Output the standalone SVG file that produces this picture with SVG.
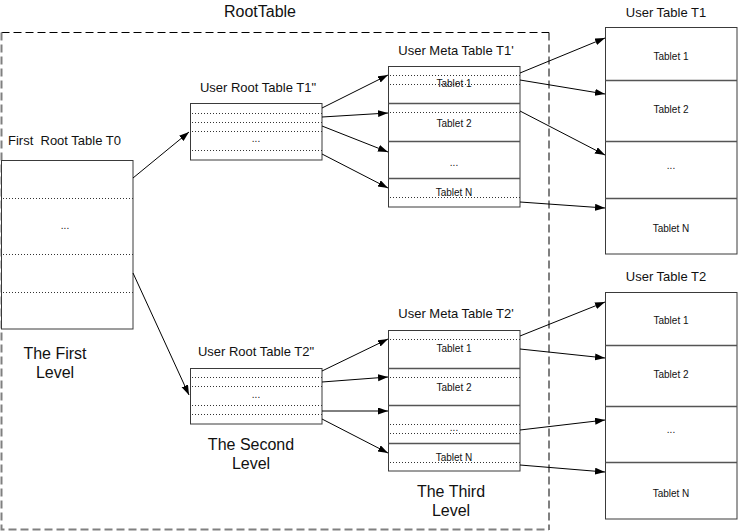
<svg xmlns="http://www.w3.org/2000/svg" width="738" height="531" viewBox="0 0 738 531">
<style>
text{font-family:"Liberation Sans",Arial,sans-serif;fill:#111}
.t{font-size:13px;text-anchor:middle}
.lv{font-size:16px;text-anchor:middle}
.s{font-size:10px;text-anchor:middle}
.box{fill:#fff;stroke:#3a3a3a;stroke-width:1}
.div{stroke:#555;stroke-width:1.3;fill:none}
.dot{stroke:#333;stroke-width:1;stroke-dasharray:1 2;fill:none}
.c{stroke:#000;stroke-width:1;fill:none;marker-end:url(#ah)}
</style>
<defs>
<marker id="ah" markerUnits="userSpaceOnUse" markerWidth="10" markerHeight="8" refX="10" refY="3.5" orient="auto">
<path d="M0,0 L10,3.5 L0,7 z" fill="#000"/>
</marker>
</defs>
<rect width="738" height="531" fill="#fff"/>
<g id="roottable">
<path d="M1.5,32.5 H549" fill="none" stroke="#000" stroke-width="1" stroke-dasharray="8 4"/>
<path d="M549,32.5 V530" fill="none" stroke="#000" stroke-width="1" stroke-dasharray="8 4"/>
<path d="M1.5,32.5 V529.5 H549" fill="none" stroke="#808080" stroke-width="2" stroke-dasharray="8 4"/>
<text x="260" y="17" style="font-size:16px;text-anchor:middle">RootTable</text>
</g>
<g id="t0">
<text x="8" y="145" style="font-size:13px;white-space:pre" xml:space="preserve">First  Root Table T0</text>
<rect class="box" x="1.5" y="160.5" width="131.5" height="168.5"/>
<path class="dot" d="M3,198.5 H133 M3,254.5 H133 M3,292.5 H133"/>
<text class="s" x="65" y="229">...</text>
</g>
<g id="t1root">
<text class="t" x="258" y="92">User Root Table T1"</text>
<rect class="box" x="190.5" y="103.5" width="131.5" height="56.5"/>
<path class="dot" d="M192,113.5 H322 M192,122.5 H322 M192,131.5 H322 M192,150.5 H322"/>
<text class="s" x="256" y="142">...</text>
</g>
<g id="t2root">
<text class="t" x="256" y="356">User Root Table T2"</text>
<rect class="box" x="190.5" y="368.5" width="131.5" height="55.5"/>
<path class="dot" d="M192,377.5 H322 M192,386.5 H322 M192,405.5 H322 M192,414.5 H322"/>
<text class="s" x="256" y="398">...</text>
</g>
<g id="t1meta">
<text class="t" x="456" y="55">User Meta Table T1'</text>
<rect class="box" x="388.5" y="66.5" width="131.5" height="140.5"/>
<path class="div" d="M388.5,103.5 H520 M388.5,141.5 H520 M388.5,178.5 H520"/>
<path class="dot" d="M390,75.5 H520 M390,84.5 H520 M390,112.5 H520 M390,197.5 H520"/>
<text class="s" x="454" y="87">Tablet 1</text>
<text class="s" x="454" y="127">Tablet 2</text>
<text class="s" x="454" y="166">...</text>
<text class="s" x="454" y="196">Tablet N</text>
</g>
<g id="t2meta">
<text class="t" x="456" y="318">User Meta Table T2'</text>
<rect class="box" x="388.5" y="330.5" width="131.5" height="140.5"/>
<path class="div" d="M388.5,368.5 H520 M388.5,405.5 H520 M388.5,443.5 H520"/>
<path class="dot" d="M390,339.5 H520 M390,377.5 H520 M390,424.5 H520 M390,433.5 H520 M390,462.5 H520"/>
<text class="s" x="454" y="352">Tablet 1</text>
<text class="s" x="454" y="391">Tablet 2</text>
<text class="s" x="454" y="431">...</text>
<text class="s" x="454" y="461">Tablet N</text>
</g>
<g id="usert1">
<text class="t" x="666" y="17">User Table T1</text>
<rect class="box" x="605.5" y="27.5" width="131.5" height="226.5"/>
<path class="div" d="M605.5,80.5 H737 M605.5,141.5 H737 M605.5,198.5 H737"/>
<text class="s" x="671" y="60">Tablet 1</text>
<text class="s" x="671" y="113">Tablet 2</text>
<text class="s" x="671" y="169">...</text>
<text class="s" x="671" y="232">Tablet N</text>
</g>
<g id="usert2">
<text class="t" x="666" y="281">User Table T2</text>
<rect class="box" x="605.5" y="292.5" width="131.5" height="226.5"/>
<path class="div" d="M605.5,345.5 H737 M605.5,406.5 H737 M605.5,462.5 H737"/>
<text class="s" x="671" y="324">Tablet 1</text>
<text class="s" x="671" y="378">Tablet 2</text>
<text class="s" x="671" y="433">...</text>
<text class="s" x="671" y="497">Tablet N</text>
</g>
<g id="levels">
<text class="lv" x="55" y="359">The First</text>
<text class="lv" x="55" y="378">Level</text>
<text class="lv" x="251" y="450">The Second</text>
<text class="lv" x="251" y="469">Level</text>
<text class="lv" x="451" y="497">The Third</text>
<text class="lv" x="451" y="516">Level</text>
</g>
<g id="connectors">
<path class="c" d="M133,178 L189,132"/>
<path class="c" d="M133,273 L189,395"/>
<path class="c" d="M322,108 L388,75"/>
<path class="c" d="M322,117 L388,113"/>
<path class="c" d="M322,126 L388,152"/>
<path class="c" d="M322,154 L388,188"/>
<path class="c" d="M322,371 L388,339"/>
<path class="c" d="M322,382 L388,377"/>
<path class="c" d="M322,411 L388,411"/>
<path class="c" d="M322,419 L388,453"/>
<path class="c" d="M520,73 L605,38"/>
<path class="c" d="M520,80 L605,94"/>
<path class="c" d="M520,111 L605,155"/>
<path class="c" d="M520,202 L605,208"/>
<path class="c" d="M520,336 L605,302"/>
<path class="c" d="M520,349 L605,358"/>
<path class="c" d="M520,430 L605,420"/>
<path class="c" d="M520,465 L605,472"/>
</g>
</svg>
